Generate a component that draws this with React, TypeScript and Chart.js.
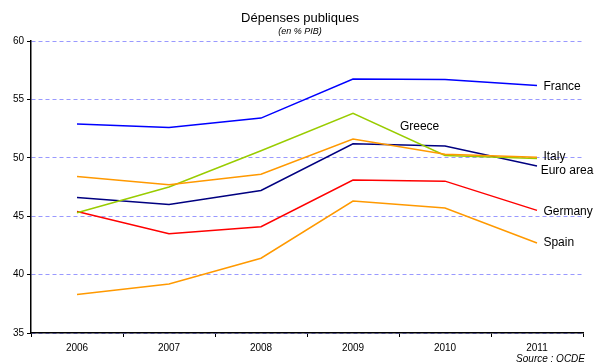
import React, { useEffect, useRef } from "react";
import { Chart, registerables } from "chart.js";

Chart.register(...registerables);

const years = ["2006", "2007", "2008", "2009", "2010", "2011"];
const france = [52.9, 52.6, 53.4, 56.75, 56.7, 56.2];
const italy = [48.4, 47.7, 48.6, 51.6, 50.3, 50.05];
const greece = [45.3, 47.5, 50.6, 53.8, 50.2, 49.95];
const euroArea = [46.6, 46.0, 47.2, 51.2, 51.0, 49.3];
const germany = [45.4, 43.5, 44.1, 48.1, 48.0, 45.5];
const spain = [38.3, 39.2, 41.4, 46.3, 45.7, 42.7];

const seriesNames = ["France", "Italy", "Greece", "Euro area", "Germany", "Spain"];
const seriesColors = ["#0000FF", "#FF9900", "#99CC00", "#000080", "#FF0000", "#FF9900"];
// label anchor in data coordinates (category index, value)
const labelIdx = [5.07, 5.07, 3.51, 5.04, 5.07, 5.07];
const labelVal = [56.06, 50.07, 52.64, 48.87, 45.36, 42.7];

const yTicks = [35, 40, 45, 50, 55, 60];

const FONT = "'Liberation Sans', Arial, sans-serif";

export default function App() {
  const ref = useRef<HTMLCanvasElement | null>(null);

  useEffect(() => {
    document.body.style.margin = "0";
    const canvas = ref.current;
    if (!canvas) return;
    const allData = [france, italy, greece, euroArea, germany, spain];

    const textPlugin = {
      id: "texts",
      afterDatasetsDraw(chart: any) {
        const ctx = chart.ctx;
        const xs = chart.scales.x;
        const ys = chart.scales.y;
        ctx.save();
        ctx.fillStyle = "#000";
        ctx.textBaseline = "middle";
        ctx.textAlign = "left";
        ctx.font = `12px ${FONT}`;
        const w = xs.getPixelForValue(1) - xs.getPixelForValue(0);
        seriesNames.forEach((n, i) => {
          const x0 = xs.getPixelForValue(0) + labelIdx[i] * w;
          ctx.fillText(n, x0, ys.getPixelForValue(labelVal[i]));
        });
        ctx.textAlign = "center";
        ctx.font = `13px ${FONT}`;
        ctx.fillText("Dépenses publiques", 300, 18);
        ctx.font = `italic 9px ${FONT}`;
        ctx.fillText("(en % PIB)", 300, 31);
        ctx.textAlign = "right";
        ctx.font = `italic 10px ${FONT}`;
        ctx.fillText("Source : OCDE", 585, 359);
        ctx.restore();
      },
    };

    const chart = new Chart(canvas, {
      type: "line",
      data: {
        labels: years,
        datasets: seriesNames.map((n, i) => ({
          label: n,
          data: allData[i],
          borderColor: seriesColors[i],
          backgroundColor: seriesColors[i],
          borderWidth: 1.5,
          pointRadius: 0,
          tension: 0,
          fill: false,
        })),
      },
      options: {
        animation: false,
        responsive: false,
        maintainAspectRatio: false,
        layout: { padding: { top: 41, right: 16, left: 0, bottom: 0 } },
        plugins: {
          legend: { display: false },
          title: { display: false },
          tooltip: { enabled: false },
        },
        scales: {
          x: {
            type: "category",
            offset: true,
            grid: {
              offset: true,
              drawOnChartArea: false,
              drawTicks: true,
              tickLength: 4,
              color: "#000",
            },
            border: { display: true, color: "#000", width: 1.5 },
            ticks: {
              color: "#000",
              font: { family: FONT, size: 10 },
              padding: 5,
              maxRotation: 0,
            },
            afterFit: (s: any) => {
              s.height = 30;
            },
          },
          y: {
            min: 35,
            max: 60,
            afterBuildTicks: (s: any) => {
              s.ticks = yTicks.map((v) => ({ value: v }));
            },
            grid: {
              color: "#9999FF",
              lineWidth: 1,
              tickColor: "#000",
              tickLength: 4,
              tickBorderDash: [],
            },
            border: { display: true, color: "#000", width: 1.5, dash: [4, 3] },
            ticks: {
              color: "#000",
              font: { family: FONT, size: 10 },
              padding: 3,
            },
            afterFit: (s: any) => {
              s.width = 31;
            },
          },
        },
      },
      plugins: [textPlugin],
    });
    return () => chart.destroy();
  }, []);

  return (
    <div style={{ width: 599, height: 363, background: "#fff" }}>
      <canvas ref={ref} width={599} height={363} style={{ display: "block" }} />
    </div>
  );
}
